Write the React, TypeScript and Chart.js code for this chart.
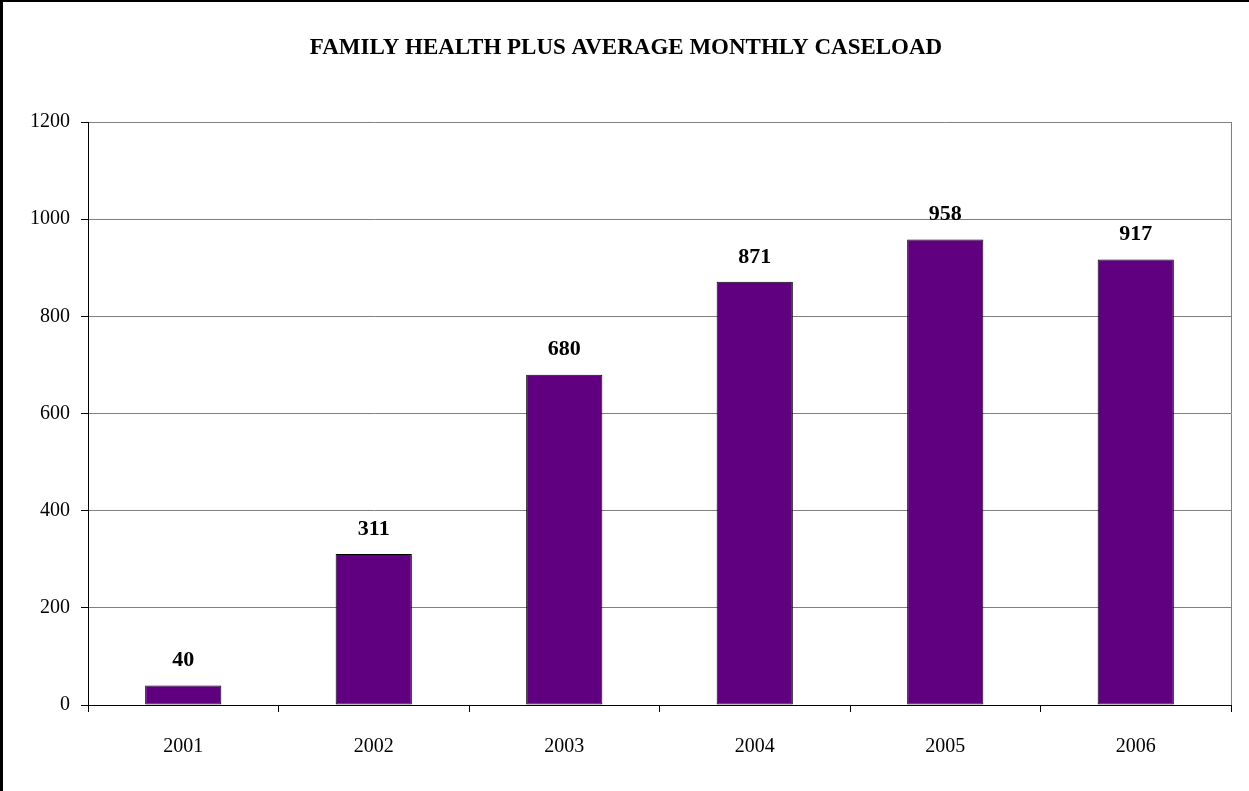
import React, { useEffect, useRef } from "react";
import { Chart, registerables } from "chart.js";

Chart.register(...registerables);

const TITLE = "FAMILY HEALTH PLUS AVERAGE MONTHLY CASELOAD";
const years = ["2001", "2002", "2003", "2004", "2005", "2006"];
const caseload = [40, 311, 680, 871, 958, 917];
const yTicks = [0, 200, 400, 600, 800, 1000, 1200];

const SERIF = "'Liberation Serif', 'Times New Roman', serif";

export default function App() {
  const ref = useRef<HTMLCanvasElement | null>(null);

  useEffect(() => {
    document.body.style.margin = "0";
    const canvas = ref.current!;
    const framePlugin = {
      id: "frame",
      beforeDraw(chart: any) {
        const { ctx, width, height } = chart;
        ctx.save();
        ctx.fillStyle = "#ffffff";
        ctx.fillRect(0, 0, width, height);
        ctx.fillStyle = "#000000";
        ctx.fillRect(0, 0, 3, height);
        ctx.fillRect(0, 0, width, 2);
        ctx.restore();
      },
      afterDatasetsDraw(chart: any) {
        const { ctx, chartArea } = chart;
        ctx.save();
        ctx.strokeStyle = "#808080";
        ctx.lineWidth = 1;
        ctx.beginPath();
        ctx.moveTo(chartArea.right + 0.5, chartArea.top);
        ctx.lineTo(chartArea.right + 0.5, chartArea.bottom);
        ctx.stroke();
        ctx.fillStyle = "#000";
        ctx.font = `bold 23px ${SERIF}`;
        ctx.textAlign = "center";
        ctx.textBaseline = "middle";
        ctx.fillText(TITLE, 626, 48);
        const meta = chart.getDatasetMeta(0);
        ctx.font = `bold 22px ${SERIF}`;
        ctx.textBaseline = "bottom";
        meta.data.forEach((bar: any, i: number) => {
          ctx.fillText(String(caseload[i]), bar.x, bar.y - 14);
        });
        ctx.restore();
      },
    };

    const chart = new Chart(canvas, {
      type: "bar",
      data: {
        labels: years,
        datasets: [
          {
            data: caseload,
            backgroundColor: "#600080",
            borderColor: "#000000",
            borderWidth: 1,
            borderSkipped: false,
            barPercentage: 0.4,
            categoryPercentage: 1,
          },
        ],
      },
      options: {
        animation: false,
        responsive: false,
        maintainAspectRatio: false,
        layout: { padding: { left: 0, top: 122, right: 18, bottom: 0 } },
        plugins: {
          legend: { display: false },
          title: { display: false },
          tooltip: { enabled: false },
        },
        scales: {
          x: {
            grid: {
              offset: true,
              drawOnChartArea: false,
              drawTicks: true,
              tickLength: 7,
              tickColor: "#000",
            },
            border: { color: "#000", width: 1 },
            ticks: {
              color: "#000",
              font: { family: SERIF, size: 20 },
              padding: 23,
              maxRotation: 0,
            },
            afterFit(scale: any) {
              scale.height = 86;
            },
          },
          y: {
            min: 0,
            max: 1200,
            afterBuildTicks(scale: any) {
              scale.ticks = yTicks.map((v) => ({ value: v }));
            },
            grid: {
              color: "#808080",
              tickColor: "#000",
              tickLength: 7,
              drawTicks: true,
            },
            border: { color: "#000", width: 1 },
            ticks: {
              color: "#000",
              font: { family: SERIF, size: 20 },
              padding: 11,
              callback: (v: any) => String(v),
            },
            afterFit(scale: any) {
              scale.width = 88;
            },
          },
        },
      },
      plugins: [framePlugin],
    });
    return () => chart.destroy();
  }, []);

  return (
    <div style={{ width: 1249, height: 791 }}>
      <canvas ref={ref} width={1249} height={791} style={{ display: "block" }} />
    </div>
  );
}
